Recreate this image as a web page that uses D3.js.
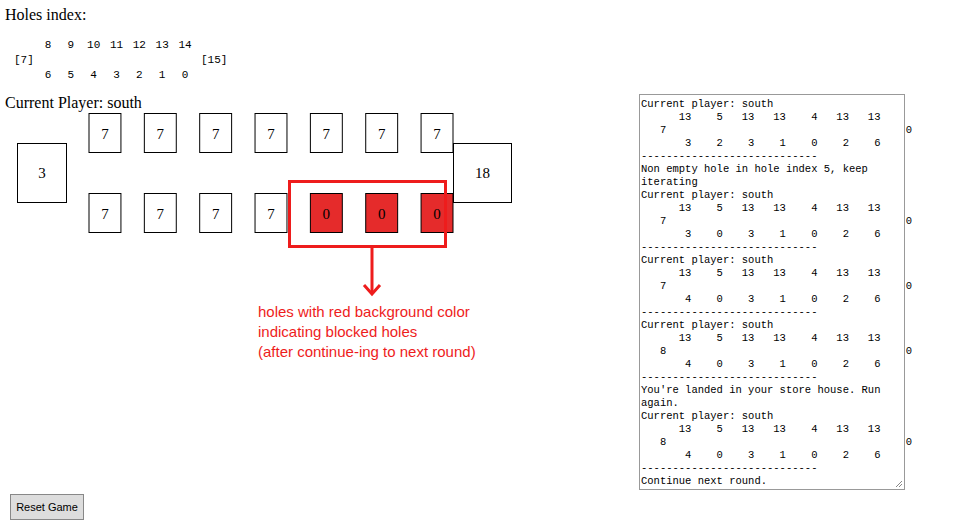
<!DOCTYPE html>
<html><head><meta charset="utf-8">
<script src="https://cdn.jsdelivr.net/npm/d3@7"></script>
<style>body{margin:0;background:#fff}</style>
</head><body>
<svg id="graphic" width="965" height="531"></svg>
<script>
// board values
var topIndex = [8, 9, 10, 11, 12, 13, 14];
var bottomIndex = [6, 5, 4, 3, 2, 1, 0];
var northHoles = [7, 7, 7, 7, 7, 7, 7];
var southHoles = [7, 7, 7, 7, 0, 0, 0];
var blocked = [false, false, false, false, true, true, true];
var stores = [3, 18];
var logLines = [
  "Current player: south",
  "      13    5   13   13    4   13   13",
  "   7                                      0",
  "       3    2    3    1    0    2    6",
  "----------------------------",
  "Non empty hole in hole index 5, keep",
  "iterating",
  "Current player: south",
  "      13    5   13   13    4   13   13",
  "   7                                      0",
  "       3    0    3    1    0    2    6",
  "----------------------------",
  "Current player: south",
  "      13    5   13   13    4   13   13",
  "   7                                      0",
  "       4    0    3    1    0    2    6",
  "----------------------------",
  "Current player: south",
  "      13    5   13   13    4   13   13",
  "   8                                      0",
  "       4    0    3    1    0    2    6",
  "----------------------------",
  "You're landed in your store house. Run",
  "again.",
  "Current player: south",
  "      13    5   13   13    4   13   13",
  "   8                                      0",
  "       4    0    3    1    0    2    6",
  "----------------------------",
  "Continue next round."
];
var note = ["holes with red background color", "indicating blocked holes", "(after continue-ing to next round)"];

var svg = d3.select("#graphic");
var serif = "'Liberation Serif', 'DejaVu Serif', serif";
var mono = "'Liberation Mono', 'DejaVu Sans Mono', monospace";

svg.append("text").attr("x", 5).attr("y", 20).attr("font-family", serif).attr("font-size", 16).text("Holes index:");

var ix = d3.scalePoint().domain(d3.range(7)).range([48, 185]);
svg.selectAll(".ti").data(topIndex).join("text")
  .attr("x", (d, i) => ix(i)).attr("y", 48).attr("text-anchor", "middle")
  .attr("font-family", mono).attr("font-size", 11).text(d => d);
svg.selectAll(".bi").data(bottomIndex).join("text")
  .attr("x", (d, i) => ix(i)).attr("y", 78).attr("text-anchor", "middle")
  .attr("font-family", mono).attr("font-size", 11).text(d => d);
svg.append("text").attr("x", 14).attr("y", 63).attr("font-family", mono).attr("font-size", 11).text("[7]");
svg.append("text").attr("x", 201).attr("y", 63).attr("font-family", mono).attr("font-size", 11).text("[15]");

svg.append("text").attr("x", 5).attr("y", 108).attr("font-family", serif).attr("font-size", 16).text("Current Player: south");

var hx = d3.scaleBand().domain(d3.range(7)).range([89, 453]).paddingInner(22 / 52).paddingOuter(0);
function row(data, y, cls) {
  var g = svg.selectAll("." + cls).data(data).join("g").attr("class", cls)
    .attr("transform", (d, i) => "translate(" + hx(i) + "," + y + ")");
  g.append("rect").attr("width", hx.bandwidth()).attr("height", 39)
    .attr("fill", (d, i) => cls == "s" && blocked[i] ? "#e52b2b" : "#fff")
    .attr("stroke", "#000").attr("stroke-width", 1);
  g.append("text").attr("x", hx.bandwidth() / 2).attr("y", 25).attr("text-anchor", "middle")
    .attr("font-family", serif).attr("font-size", 15).text(d => d);
}
row(northHoles, 113.5, "n");
row(southHoles, 193.5, "s");

var storeBox = [{x: 17.5, w: 49}, {x: 453.5, w: 58}];
stores.forEach(function(v, i) {
  svg.append("rect").attr("x", storeBox[i].x).attr("y", 143.5).attr("width", storeBox[i].w).attr("height", 59)
    .attr("fill", "#fff").attr("stroke", "#000");
  svg.append("text").attr("x", storeBox[i].x + storeBox[i].w / 2).attr("y", 178).attr("text-anchor", "middle")
    .attr("font-family", serif).attr("font-size", 15).text(v);
});

// annotation
svg.append("rect").attr("x", 289.5).attr("y", 181.5).attr("width", 156).attr("height", 65)
  .attr("fill", "none").attr("stroke", "#ee1c1c").attr("stroke-width", 3);
svg.append("line").attr("x1", 372).attr("x2", 372).attr("y1", 247).attr("y2", 292)
  .attr("stroke", "#ee1c1c").attr("stroke-width", 3);
svg.append("path").attr("d", "M364,285 L372,294 L380,285").attr("fill", "none")
  .attr("stroke", "#ee1c1c").attr("stroke-width", 3);
svg.selectAll(".note").data(note).join("text").attr("class", "note")
  .attr("x", 258).attr("y", (d, i) => 317 + i * 20)
  .attr("font-family", "'Liberation Sans', Arial, sans-serif").attr("font-size", 15).attr("fill", "#ee1c1c").text(d => d);

// log textarea
svg.append("rect").attr("x", 639.5).attr("y", 94.5).attr("width", 265).attr("height", 395)
  .attr("fill", "#fff").attr("stroke", "#999");
svg.selectAll(".log").data(logLines).join("text").attr("class", "log")
  .attr("x", 641).attr("y", (d, i) => 107 + i * 13).attr("xml:space", "preserve")
  .style("white-space", "pre").attr("font-family", "'Liberation Mono', monospace").attr("font-size", 10.5)
  .text(d => d);
svg.append("path").attr("d", "M896,487 L902,481 M899,487 L902,484").attr("stroke", "#888");

// reset button
svg.append("rect").attr("x", 10.5).attr("y", 494.5).attr("width", 73).attr("height", 25)
  .attr("fill", "#ddd").attr("stroke", "#888");
svg.append("text").attr("x", 47).attr("y", 511).attr("text-anchor", "middle")
  .attr("font-family", "'Liberation Sans', Arial, sans-serif").attr("font-size", 11).text("Reset Game");
</script>
</body></html>
